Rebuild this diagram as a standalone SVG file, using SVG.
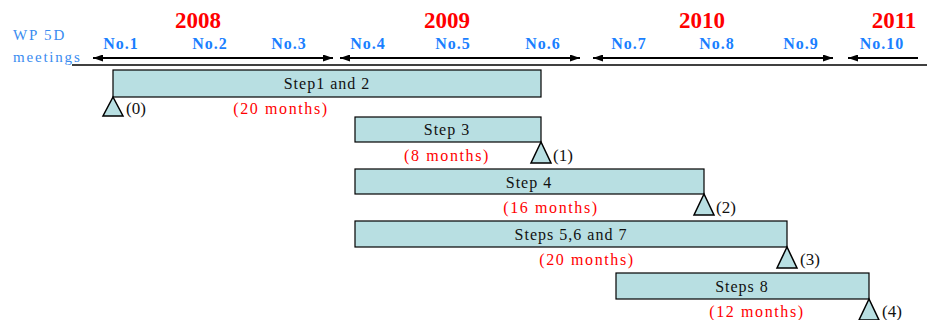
<svg xmlns="http://www.w3.org/2000/svg" width="927" height="320" viewBox="0 0 927 320">
<style>
text{font-family:"Liberation Serif","Times New Roman","DejaVu Serif",serif}
.yr{font-weight:bold;font-size:23px;fill:#ff0000;text-anchor:middle}
.no{font-weight:bold;font-size:16px;fill:#1a7fff;text-anchor:middle;letter-spacing:1px}
.wp{font-size:15px;fill:#3a8cf0;letter-spacing:1.8px}
.bar{fill:#b8dfe2;stroke:#000;stroke-width:1.2}
.tri{fill:#b8dfe2;stroke:#000;stroke-width:1.5}
.bt{font-size:16px;fill:#111;text-anchor:middle;letter-spacing:1px}
.mo{font-size:16px;fill:#ff0000;text-anchor:middle;letter-spacing:1.6px}
.ms{font-size:17px;fill:#111}
.arr{stroke:#000;stroke-width:2;fill:none}
</style>
<defs>
<marker id="ah" viewBox="0 0 10 7" refX="10" refY="3.5" markerWidth="10" markerHeight="7" markerUnits="userSpaceOnUse" orient="auto-start-reverse">
<path d="M0,0 L10,3.5 L0,7 z" fill="#000"/>
</marker>
</defs>
<g id="header">
<text class="yr" x="198" y="28">2008</text>
<text class="yr" x="447" y="28">2009</text>
<text class="yr" x="702" y="28">2010</text>
<text class="yr" x="894" y="28">2011</text>
<text class="wp" x="13" y="40">WP 5D</text>
<text class="wp" x="13" y="62">meetings</text>
<text class="no" x="121" y="49">No.1</text>
<text class="no" x="210" y="49">No.2</text>
<text class="no" x="289" y="49">No.3</text>
<text class="no" x="368" y="49">No.4</text>
<text class="no" x="453" y="49">No.5</text>
<text class="no" x="543" y="49">No.6</text>
<text class="no" x="629" y="49">No.7</text>
<text class="no" x="717" y="49">No.8</text>
<text class="no" x="801" y="49">No.9</text>
<text class="no" x="882" y="49">No.10</text>
</g>
<g id="connectors">
<line x1="72" y1="65" x2="927" y2="65" stroke="#000" stroke-width="1.5"/>
<line class="arr" x1="93" y1="58" x2="333" y2="58" marker-start="url(#ah)" marker-end="url(#ah)"/>
<line class="arr" x1="340" y1="58" x2="580" y2="58" marker-start="url(#ah)" marker-end="url(#ah)"/>
<line class="arr" x1="593" y1="58" x2="833" y2="58" marker-start="url(#ah)" marker-end="url(#ah)"/>
<line class="arr" x1="848" y1="58" x2="918" y2="58" marker-start="url(#ah)"/>
</g>
<g id="step12">
<rect class="bar" x="113" y="70" width="428" height="27"/>
<text class="bt" x="327" y="89">Step1 and 2</text>
<polygon class="tri" points="113,97 103,116 123,116"/>
<text class="ms" x="126" y="114">(0)</text>
<text class="mo" x="281" y="114">(20 months)</text>
</g>
<g id="step3">
<rect class="bar" x="355" y="117" width="186" height="25"/>
<text class="bt" x="447" y="135">Step 3</text>
<polygon class="tri" points="541,142 531,163 551,163"/>
<text class="ms" x="553" y="161">(1)</text>
<text class="mo" x="447" y="161">(8 months)</text>
</g>
<g id="step4">
<rect class="bar" x="355" y="169" width="349" height="25"/>
<text class="bt" x="529" y="188">Step 4</text>
<polygon class="tri" points="704,194 694,215 714,215"/>
<text class="ms" x="716" y="213">(2)</text>
<text class="mo" x="551" y="213">(16 months)</text>
</g>
<g id="step567">
<rect class="bar" x="355" y="221" width="432" height="26"/>
<text class="bt" x="571" y="240">Steps 5,6 and 7</text>
<polygon class="tri" points="787,247 777,268 797,268"/>
<text class="ms" x="800" y="265">(3)</text>
<text class="mo" x="587" y="265">(20 months)</text>
</g>
<g id="step8">
<rect class="bar" x="616" y="273" width="253" height="26"/>
<text class="bt" x="742" y="292">Steps 8</text>
<polygon class="tri" points="869,299 859,320 879,320"/>
<text class="ms" x="882" y="317">(4)</text>
<text class="mo" x="757" y="317">(12 months)</text>
</g>
</svg>
